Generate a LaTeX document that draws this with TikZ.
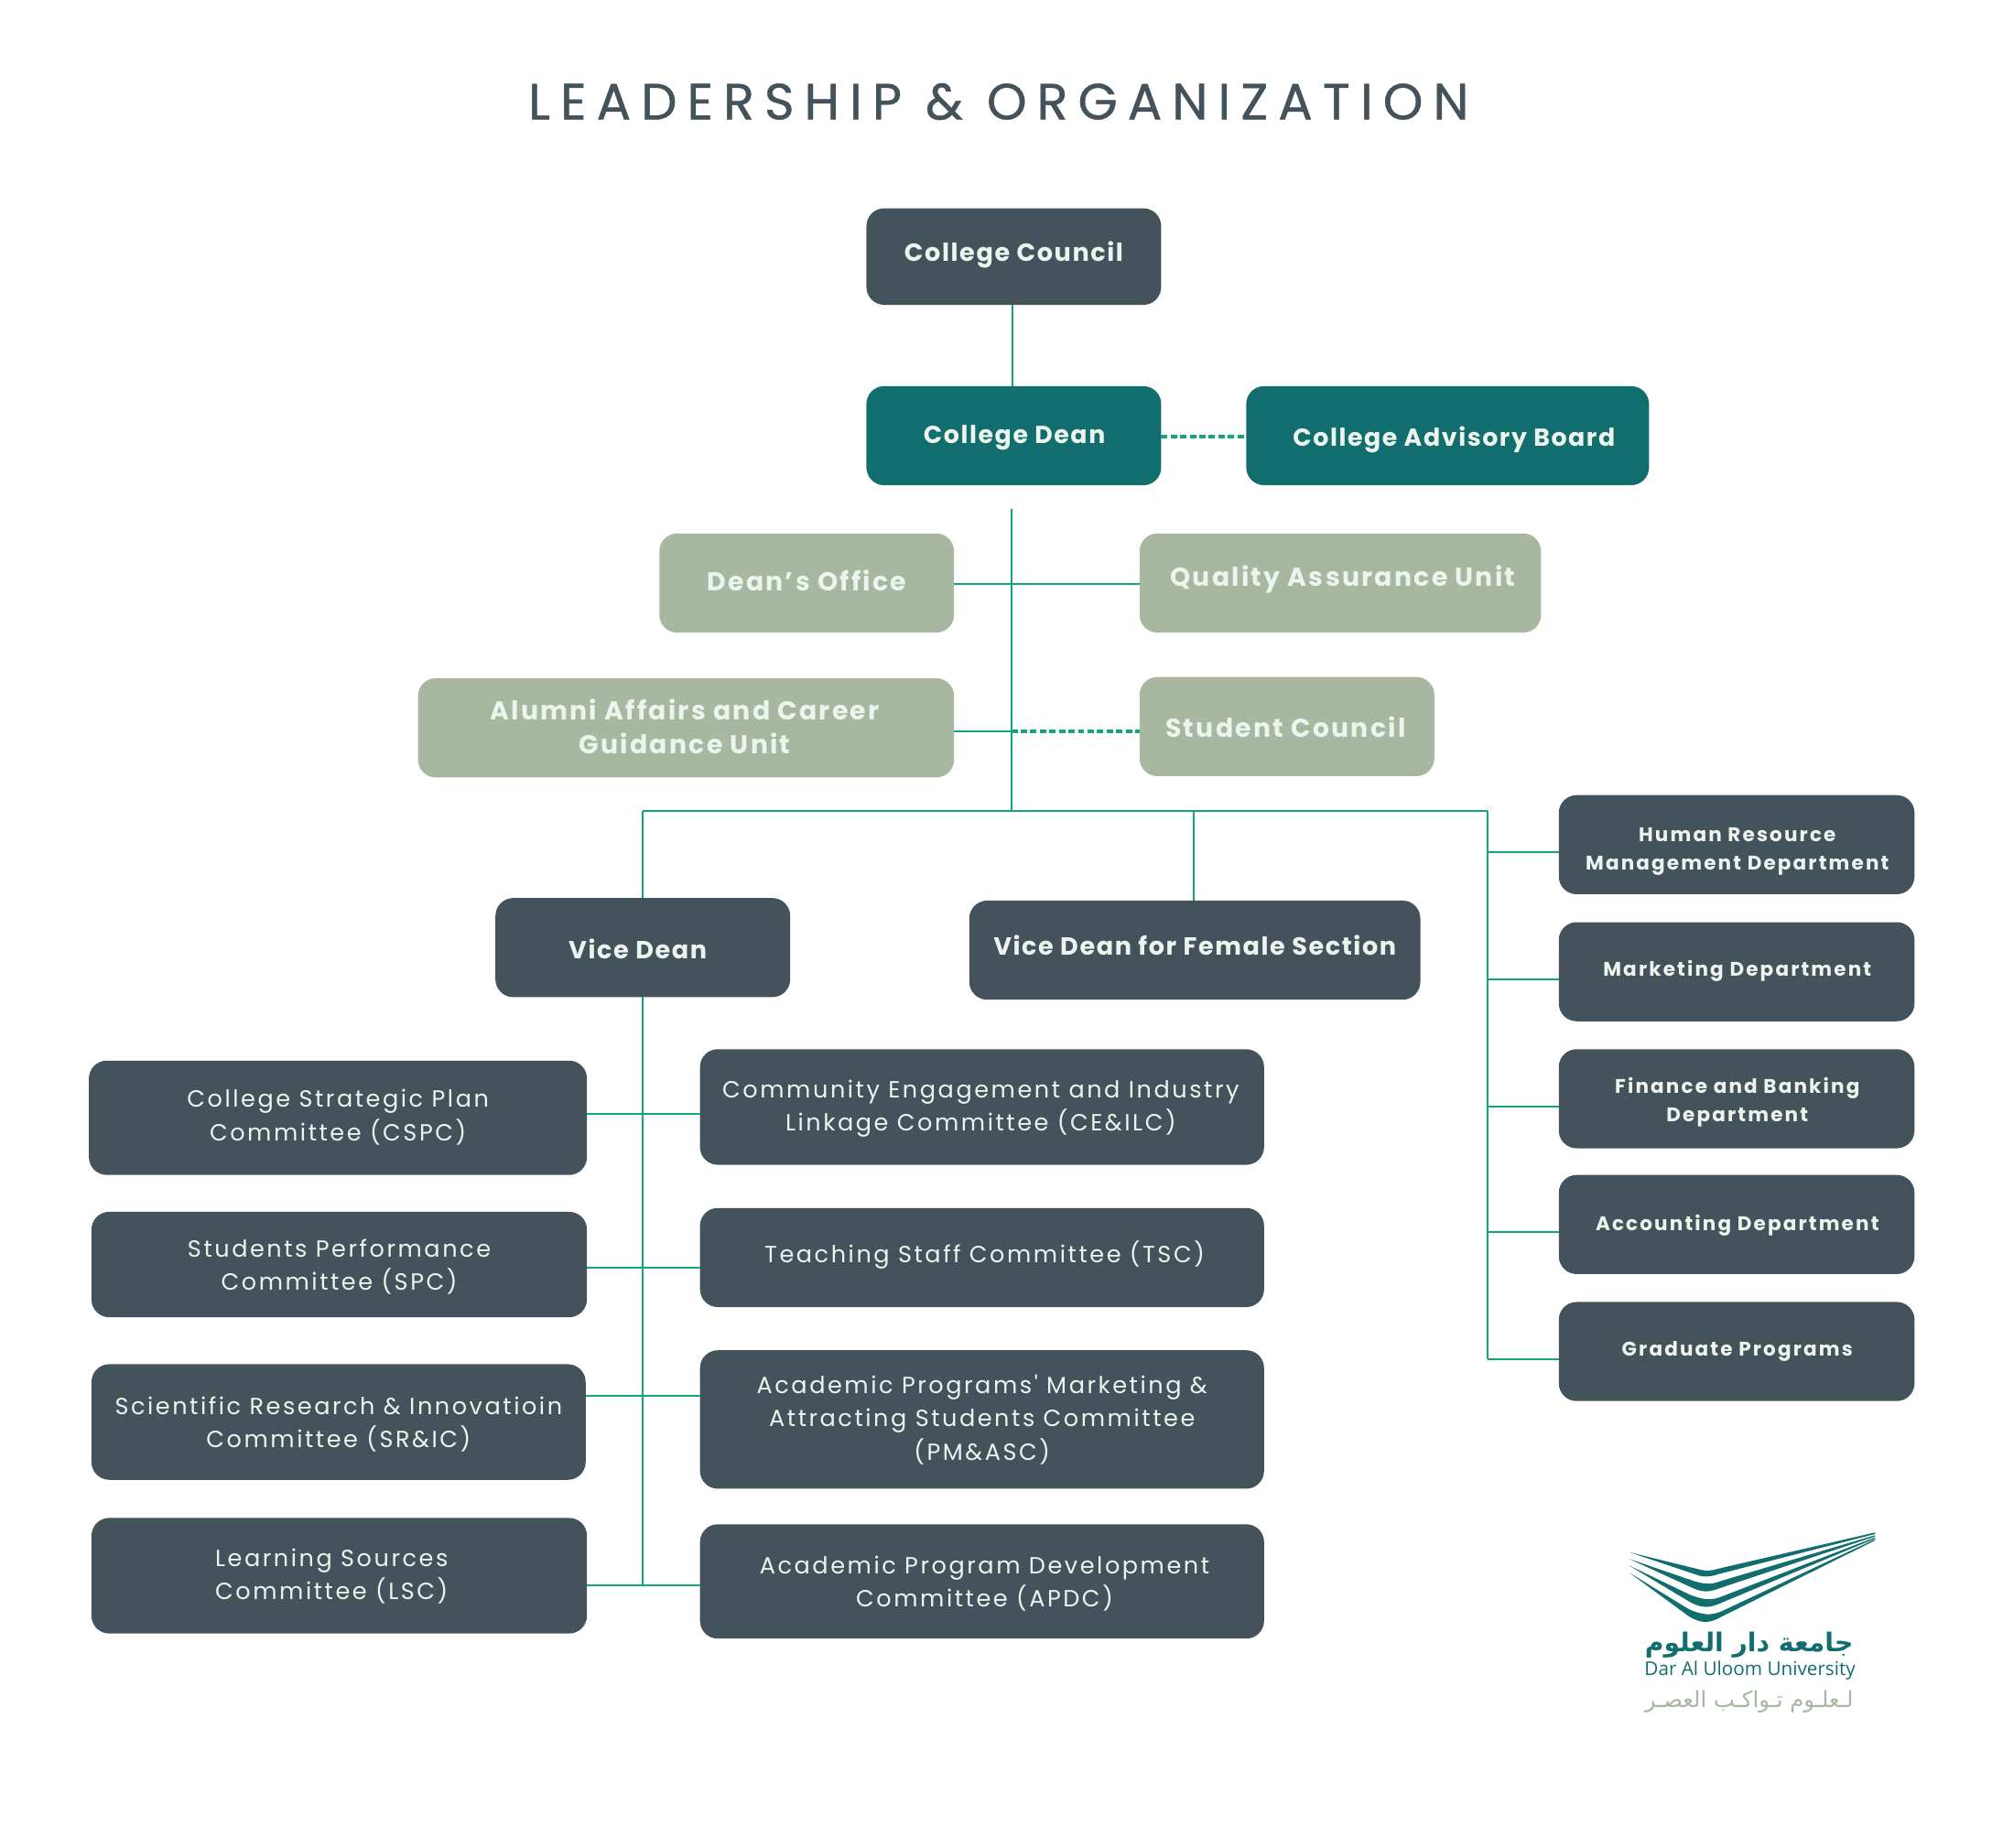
\documentclass[tikz,border=0pt]{standalone}
\usepackage{graphicx}
\usepackage{fontspec}
\TeXXeTstate=1
\newfontfamily\ptitle[LetterSpace=20,FakeBold=0.8]{Poppins}
\newfontfamily\pbold[LetterSpace=6]{Poppins}
\newfontfamily\psage[LetterSpace=8]{Poppins}
\newfontfamily\pdept[LetterSpace=10]{Poppins}
\newfontfamily\preg[LetterSpace=10]{Poppins}
\newfontfamily\arabicfont[Script=Arabic]{DejaVu Sans}
\newfontfamily\logolatin{Open Sans}
\definecolor{slate}{HTML}{44535B}
\definecolor{deepteal}{HTML}{126E6E}
\definecolor{sage}{HTML}{A7B7A0}
\definecolor{offwhite}{HTML}{EDF4EE}
\definecolor{linkgreen}{HTML}{10A57B}
\tikzset{
  boxbase/.style={rectangle,rounded corners=14pt,inner sep=0pt,outer sep=0pt,text=offwhite,align=center},
  darkbig/.style={boxbase,fill=slate,font=\pbold\bfseries\fontsize{19.5}{26}\selectfont},
  tealbig/.style={boxbase,fill=deepteal,font=\pbold\bfseries\fontsize{19.3}{26}\selectfont},
  sagebig/.style={boxbase,fill=sage,font=\psage\bfseries\fontsize{20.4}{27}\selectfont},
  dept/.style={boxbase,fill=slate,font=\pdept\bfseries\fontsize{15.5}{22}\selectfont},
  cmte/.style={boxbase,fill=slate,font=\preg\fontsize{18.4}{26}\selectfont},
  link/.style={draw=linkgreen,line width=1.4pt},
  dashlink/.style={draw=linkgreen,line width=3pt,dash pattern=on 5pt off 2.5pt},
}
% box given by its corners in reference layout, text offset from the box centre
\newcommand{\orgbox}[9]{%
  \pgfmathsetmacro{\bcx}{(#3+#5)/2}\pgfmathsetmacro{\bcy}{(#4+#6)/2}%
  \pgfmathsetmacro{\bw}{#5-#3}\pgfmathsetmacro{\bh}{#6-#4}%
  \node[#1,minimum width=\bw pt,minimum height=\bh pt] (#2) at (\bcx,\bcy)
    {\raisebox{\dimexpr -#8pt-5pt\relax}[0pt][0pt]{\makebox[0pt]{\hspace*{\dimexpr 2\dimexpr #7pt\relax\relax}\begin{tabular}{@{}c@{}}#9\end{tabular}}}};%
}
\begin{document}
\begin{tikzpicture}[x=1pt,y=-1pt]
\useasboundingbox (0,0) rectangle (1568,1454.8);
\fill[white] (0,0) rectangle (1568,1454.8);
\node[font=\ptitle\fontsize{40}{44}\selectfont,text=slate,inner sep=0pt] (title) at (786,80) {LEADERSHIP \& ORGANIZATION};
% top
\orgbox{darkbig}{council}{682}{164}{914}{240}{0}{-1}{College Council}
\orgbox{tealbig}{dean}{682}{304}{914}{382}{0.5}{1}{College Dean}
\orgbox{tealbig}{board}{981}{304}{1298}{382}{5}{3}{College Advisory Board}
\orgbox{sagebig}{office}{519}{420}{751}{498}{0}{1}{Dean’s Office}
\orgbox{sagebig}{qa}{897}{420}{1213}{498}{2}{-3}{Quality Assurance Unit}
\orgbox{sagebig}{alumni}{329}{534}{751}{612}{-1}{2}{Alumni Affairs and Career\\Guidance Unit}
\orgbox{sagebig}{student}{897}{533}{1129}{611}{-1}{3}{Student Council}
\orgbox{darkbig}{vice}{390}{707}{622}{785}{-4}{4}{Vice Dean}
\orgbox{darkbig}{female}{763}{709}{1118}{787}{0}{-1}{Vice Dean for Female Section}
% departments
\orgbox{dept}{hr}{1227}{626}{1507}{704}{0.5}{3}{Human Resource\\Management Department}
\orgbox{dept}{mkt}{1227}{726}{1507}{804}{0.5}{-2}{Marketing Department}
\orgbox{dept}{fin}{1227}{826}{1507}{904}{0.5}{1}{Finance and Banking\\Department}
\orgbox{dept}{acc}{1227}{925}{1507}{1003}{0.5}{-1}{Accounting Department}
\orgbox{dept}{grad}{1227}{1025}{1507}{1103}{0.5}{-2}{Graduate Programs}
% committees
\orgbox{cmte}{cspc}{70}{835}{462}{925}{0}{-1}{College Strategic Plan\\Committee (CSPC)}
\orgbox{cmte}{spc}{72}{954}{462}{1037}{0}{1}{Students Performance\\Committee (SPC)}
\orgbox{cmte}{sric}{72}{1074}{461}{1165}{0}{1}{Scientific Research \& Innovatioin\\Committee (SR\&IC)}
\orgbox{cmte}{lsc}{72}{1195}{462}{1286}{-6}{0}{Learning Sources\\Committee (LSC)}
\orgbox{cmte}{ce}{551}{826}{995}{917}{-1}{0}{Community Engagement and Industry\\Linkage Committee (CE\&ILC)}
\orgbox{cmte}{tsc}{551}{951}{995}{1029}{2}{-2}{Teaching Staff Committee (TSC)}
\orgbox{cmte}{pm}{551}{1063}{995}{1172}{0}{0}{Academic Programs' Marketing \&\\Attracting Students Committee\\(PM\&ASC)}
\orgbox{cmte}{apdc}{551}{1200}{995}{1290}{2}{1}{Academic Program Development\\Committee (APDC)}
% junctions
\coordinate (trunktop) at (796,401);
\coordinate (trunkbus) at (796,638.3);
\coordinate (busleft) at (506,638.3);
\coordinate (busfemale) at (939.7,638.3);
\coordinate (busright) at (1171,638.3);
\coordinate (trunkalumni) at (796,576);
\coordinate (deptend) at (1171,1070);
\coordinate (viceend) at (506,1248);
% connectors
\draw[link] (council.south) ++(-1,0) -- ([xshift=-1pt]dean.north);
\draw[dashlink] ([yshift=-1pt]dean.east) -- ([yshift=-1pt]board.west);
\draw[link] (trunktop) -- (trunkbus);
\draw[link] ([yshift=-1pt]office.east) -- ([yshift=-1pt]qa.west);
\draw[link] ([yshift=-3pt]alumni.east) -- (trunkalumni);
\draw[dashlink] (trunkalumni) -- ([yshift=-4pt]student.west);
\draw[link] (busleft) -- (busright);
\draw[link] (busleft) -- (busleft |- vice.north);
\draw[link] (busfemale) -- (busfemale |- female.north);
\draw[link] (busright) -- (deptend);
\draw[link] ([yshift=-6pt]hr.west) -- ++(-56,0);
\draw[link] ([yshift=-6pt]mkt.west) -- ++(-56,0);
\draw[link] ([yshift=-6pt]fin.west) -- ++(-56,0);
\draw[link] ([yshift=-6pt]acc.west) -- ++(-56,0);
\draw[link] ([yshift=-6pt]grad.west) -- ++(-56,0);
\draw[link] (busleft |- vice.south) -- (viceend);
\draw[link] ([yshift=3pt]cspc.east) -- ([yshift=-5.5pt]ce.west);
\draw[link] ([yshift=-2.5pt]spc.east) -- ([yshift=-8pt]tsc.west);
\draw[link] ([yshift=20.5pt]sric.east) -- ([yshift=18.5pt]pm.west);
\draw[link] ([yshift=-7.5pt]lsc.east) -- ([yshift=-3pt]apdc.west);
% logo
\begin{scope}[shift={(1224.96,1181.7)},x=0.2402pt,y=-0.2402pt]
\fill[deepteal] (240,168) -- (460,222) .. controls (490,230) and (505,230) .. (530,222) -- (1045,103) -- (1045,108) -- (530,240) .. controls (500,250) and (480,250) .. (455,240) -- cycle;
\fill[deepteal] (240,190) -- (450,262) .. controls (490,274) and (510,274) .. (540,262) -- (1045,112) -- (1045,116) -- (540,284) .. controls (500,300) and (480,300) .. (445,284) -- cycle;
\fill[deepteal] (240,212) -- (440,308) .. controls (490,326) and (510,326) .. (545,312) -- (1045,119) -- (1045,123) -- (545,332) .. controls (500,352) and (480,352) .. (440,332) -- cycle;
\fill[deepteal] (240,235) -- (430,352) .. controls (480,376) and (510,376) .. (545,360) -- (1045,125) -- (1045,129) -- (540,380) .. controls (500,402) and (475,402) .. (435,378) -- cycle;
\node[text=deepteal,inner sep=0pt] (logoar) at (632,472) {\resizebox{164pt}{!}{\arabicfont\bfseries\beginR جامعة دار العلوم\endR}};
\node[text=deepteal,inner sep=0pt] (logoen) at (635,556) {\resizebox{166pt}{!}{\logolatin Dar Al Uloom University}};
\node[text=sage,inner sep=0pt] (logoslogan) at (632,658) {\resizebox{164pt}{!}{\arabicfont\beginR لـعلـوم تـواكـب العصـر\endR}};
\end{scope}
\end{tikzpicture}
\end{document}
